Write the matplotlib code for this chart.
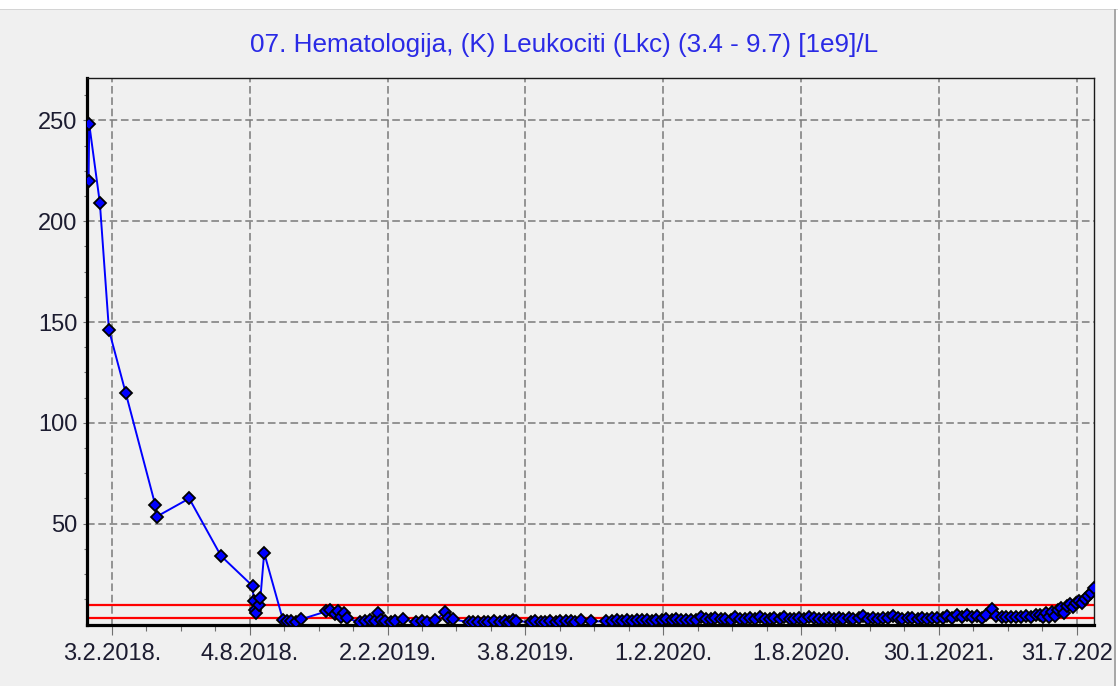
import datetime as dt
import matplotlib
matplotlib.use('Agg')
import matplotlib.pyplot as plt
import matplotlib.dates as mdates
from matplotlib.ticker import FixedLocator, FuncFormatter
from matplotlib.patches import Rectangle

naslov = '07. Hematologija, (K) Leukociti (Lkc) (3.4 - 9.7) [1e9]/L'

# dani od 3.2.2018.
pocetak = dt.date(2018, 2, 3)
dani = [
    -31, -30, -16, -4, 18, 57, 59, 102, 144, 186, 187, 189, 190, 194, 196, 201,
    226, 231, 236, 243, 250,
    283, 288, 294, 299, 303, 306, 310,
    328, 334, 341, 347, 351, 355, 361, 368, 374, 385, 401, 409,
    416, 427, 440, 444, 451,
    471, 477, 484, 491, 497, 504, 513, 519, 524, 529, 533,
    553, 559, 566, 572, 579, 586, 592, 599, 606, 612, 619,
    632, 652,
    661, 667, 674, 680, 687, 693, 700, 706, 713, 719, 726, 732, 739, 745, 752, 758, 765, 771,
    778, 784, 791, 797, 804, 810, 817, 823, 830, 836, 843, 849, 856, 862, 869, 875, 882, 888,
    895, 901, 908, 914, 921, 927, 934,
    940, 947, 953, 960, 966, 973, 979, 986, 992, 999, 1005, 1012, 1018, 1025, 1031, 1038, 1044,
    1051, 1057, 1064, 1070, 1077, 1083, 1090,
    1097, 1103, 1110, 1116, 1123, 1129, 1136, 1142, 1149, 1155, 1162, 1168, 1175, 1181, 1188,
    1194, 1201, 1207, 1214, 1220,
    1226, 1230, 1234, 1238, 1241, 1245, 1249, 1253, 1257, 1261, 1265, 1269, 1273, 1277, 1281,
    1285, 1289, 1293, 1297,
]
lkc = [
    220, 248, 209, 146, 115, 59.5, 53.5, 62.5, 34, 19, 11.5, 7, 5.5, 9.5, 13, 35.5,
    2.0, 1.5, 1.8, 1.2, 2.6,
    6.5, 7.0, 5.0, 6.8, 3.8, 5.5, 3.0,
    1.2, 1.5, 2.0, 1.8, 5.5, 2.2, 1.5, 1.2, 1.8, 2.5, 1.2, 1.5,
    1.4, 2.3, 6.0, 3.2, 2.5,
    1.2, 1.3, 1.1, 1.4, 1.2, 1.5, 1.3, 1.8, 1.4, 2.0, 1.6,
    1.3, 1.5, 1.2, 1.4, 1.6, 1.3, 1.8, 1.5, 1.7, 1.4, 2.2,
    1.5, 1.6,
    1.8, 2.0, 1.7, 2.1, 1.9, 2.3, 2.0, 2.2, 1.9, 2.4, 2.1, 2.5, 2.2, 2.6, 2.3, 2.0, 2.4, 2.2,
    3.6, 2.5, 2.8, 3.4, 2.6, 2.9, 2.4, 3.5, 2.7, 2.5, 3.0, 2.6, 3.6, 2.8, 2.5, 3.1, 2.7, 3.7,
    2.9, 2.6, 3.2, 2.8, 3.8, 3.0, 2.7,
    2.9, 3.1, 2.7, 3.0, 2.8, 3.2, 2.9, 3.0, 4.0, 2.8, 3.1, 2.9, 3.3, 3.0, 4.2, 3.1, 2.9,
    3.2, 3.0, 2.8, 3.1, 2.9, 3.3, 3.0,
    3.4, 4.2, 3.2, 4.5, 3.6, 4.8, 3.5, 4.4, 3.3, 4.6, 7.5, 4.0, 3.6, 3.8, 3.5,
    3.9, 3.6, 4.2, 3.8, 4.6,
    4.8, 3.5, 5.5, 3.8, 6.3, 4.2, 7.2, 8.0, 5.5, 9.0, 10.0, 8.5, 10.8, 11.5, 10.5,
    12.8, 14.0, 15.8, 18.0,
]

ref_donja = 3.4
ref_gornja = 9.7

datumi_osi = ['2018-02-03', '2018-08-04', '2019-02-02', '2019-08-03',
              '2020-02-01', '2020-08-01', '2021-01-30', '2021-07-31']
y_oznake = [50, 100, 150, 200, 250]

plt.rcParams['font.family'] = ['Liberation Sans', 'DejaVu Sans']

datumi = [pocetak + dt.timedelta(days=d) for d in dani]

fig = plt.figure(figsize=(11.18, 6.86), dpi=100, facecolor='#f0f0f0')
ax = fig.add_axes([87 / 1118, 61.5 / 686, 1007 / 1118, 546.5 / 686])
ax.set_facecolor('#f0f0f0')

ax.axhline(ref_gornja, color='#ff0000', lw=1.6, zorder=2)
ax.axhline(ref_donja, color='#ff0000', lw=1.6, zorder=2)
ax.plot(datumi, lkc, color='#0000ff', lw=1.4, marker='D', ms=6.6,
        mfc='#0000ff', mec='black', mew=1.3, zorder=3)

ax.set_xlim(mdates.date2num(pocetak - dt.timedelta(days=33)),
            mdates.date2num(pocetak + dt.timedelta(days=1297.6)))
ax.set_ylim(0, 271)

glavni = [mdates.date2num(dt.date.fromisoformat(s)) for s in datumi_osi]
sporedni = [glavni[0] + k * 45.5 for k in range(-1, 30)]
ax.xaxis.set_major_locator(FixedLocator(glavni))
ax.xaxis.set_minor_locator(FixedLocator(sporedni))
ax.xaxis.set_major_formatter(FuncFormatter(
    lambda v, p: (lambda d: f'{d.day}.{d.month}.{d.year}.')(mdates.num2date(v))))
ax.yaxis.set_major_locator(FixedLocator(y_oznake))
ax.yaxis.set_minor_locator(FixedLocator([k * 12.5 for k in range(1, 22)]))

ax.grid(which='major', color='#7a7a7a', lw=1.1, ls=(0, (5, 2.4)))
ax.set_axisbelow(True)

ax.tick_params(axis='x', which='major', length=7, width=0.8, color='#707070',
               pad=6.5, labelsize=17, labelcolor='#1c1c30')
ax.tick_params(axis='x', which='minor', length=4.5, width=0.8, color='#707070')
ax.tick_params(axis='y', which='major', length=3, width=0.8, color='#707070',
               pad=4, labelsize=17, labelcolor='#1c1c30')
ax.tick_params(axis='y', which='minor', length=2, width=0.8, color='#707070')

for s in ['left', 'bottom']:
    ax.spines[s].set_linewidth(2.3)
    ax.spines[s].set_color('black')
for s in ['top', 'right']:
    ax.spines[s].set_linewidth(1.0)
    ax.spines[s].set_color('#1a1a1a')

fig.text(564 / 1118, 1 - 52 / 686, naslov, ha='center', va='baseline',
         fontsize=18.8, color='#2a2ae6')

# rub prozora gore i desno
fig.patches.append(Rectangle((0, 1 - 9 / 686), 1, 9 / 686, transform=fig.transFigure,
                             facecolor='white', edgecolor='none', zorder=10))
fig.patches.append(Rectangle((0, 1 - 10 / 686), 1, 1 / 686, transform=fig.transFigure,
                             facecolor='#d4d4d4', edgecolor='none', zorder=11))
fig.patches.append(Rectangle((1114 / 1118, 0), 4 / 1118, 1, transform=fig.transFigure,
                             facecolor='white', edgecolor='none', zorder=10))
fig.patches.append(Rectangle((1114 / 1118, 0), 2 / 1118, 1 - 9 / 686, transform=fig.transFigure,
                             facecolor='#a8a8a8', edgecolor='none', zorder=11))

fig.savefig('out.png', dpi=100, facecolor=fig.get_facecolor())
